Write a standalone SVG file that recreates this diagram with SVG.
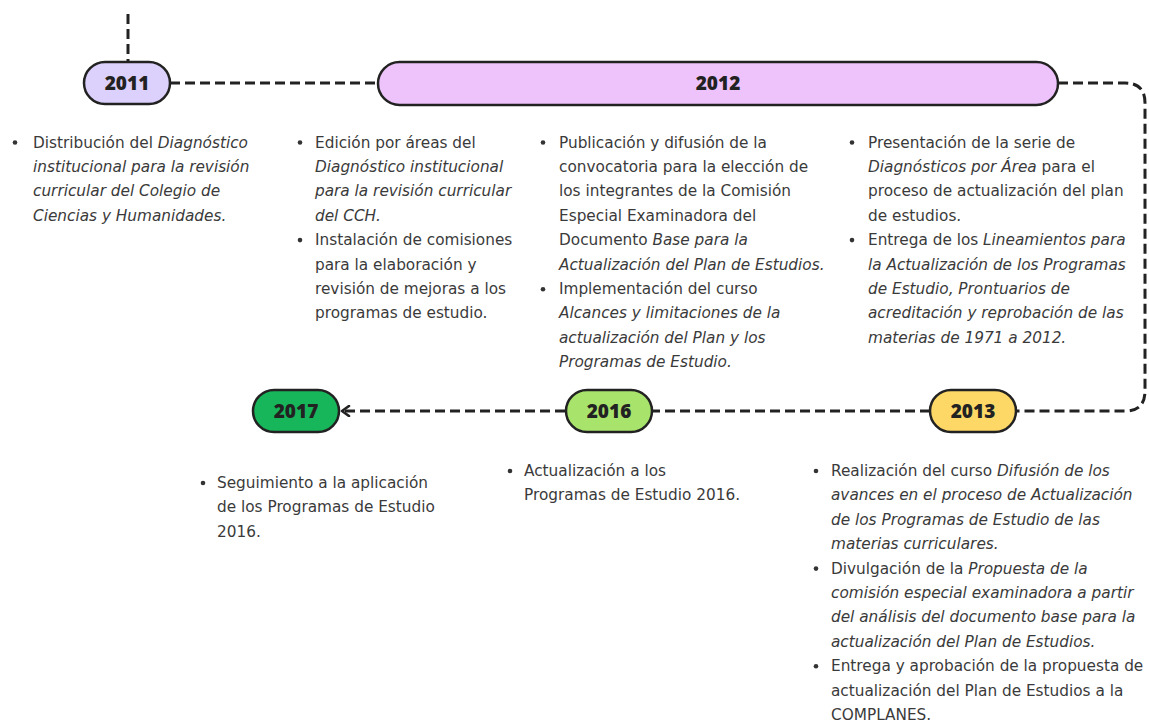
<svg xmlns="http://www.w3.org/2000/svg" width="1149" height="726" viewBox="0 0 1149 726">
<defs>
<style>
.pill{stroke:#222;stroke-width:2.5}
.yr{font-family:"Open Sans","Liberation Sans",sans-serif;font-weight:800;font-size:19px;fill:#222;text-anchor:middle}
.tx{font-family:"DejaVu Sans","Liberation Sans",sans-serif;font-size:15.3px;fill:#3a3a3a}
.i{font-style:italic}
.con{fill:none;stroke:#222;stroke-width:3;stroke-dasharray:10 5}
.dot{fill:#333}
</style>
<marker id="arr" viewBox="0 0 12 12" refX="9" refY="6" markerWidth="12" markerHeight="12" markerUnits="userSpaceOnUse" orient="auto">
<path d="M2,1 L9,6 L2,11" fill="none" stroke="#222" stroke-width="2.6" stroke-linecap="round" stroke-linejoin="round"/>
</marker>
</defs>
<rect width="1149" height="726" fill="#fff"/>
<g id="connectors">
<path class="con" d="M128,14 V62"/>
<path class="con" d="M170,83 H378"/>
<path class="con" d="M1058,83 H1125 Q1145,83 1145,103 V391 Q1145,411 1125,411 H1016"/>
<path class="con" d="M930,411 H652"/>
<path class="con" d="M565,411 H342" marker-end="url(#arr)"/>
</g>
<g id="n2011">
<rect class="pill" x="84" y="62" width="86" height="42" rx="21" fill="#dcd0fc"/>
<text class="yr" x="127" y="90">2011</text>
</g>
<g id="n2012">
<rect class="pill" x="378" y="62" width="680" height="43" rx="21.5" fill="#eec3fb"/>
<text class="yr" x="718" y="90">2012</text>
</g>
<g id="n2013">
<rect class="pill" x="930" y="390" width="86" height="42" rx="21" fill="#fdd867"/>
<text class="yr" x="973" y="418">2013</text>
</g>
<g id="n2016">
<rect class="pill" x="566" y="390" width="86" height="42" rx="21" fill="#a8e36c"/>
<text class="yr" x="609" y="418">2016</text>
</g>
<g id="n2017">
<rect class="pill" x="253" y="390" width="86" height="42" rx="21" fill="#17b65b"/>
<text class="yr" x="296" y="418">2017</text>
</g>
<g id="t2011">
<circle class="dot" cx="15" cy="142.5" r="2.3"/>
<text class="tx">
<tspan x="33" y="147.5">Distribución del <tspan class="i">Diagnóstico</tspan></tspan>
<tspan class="i" x="33" y="171.9">institucional para la revisión</tspan>
<tspan class="i" x="33" y="196.3">curricular del Colegio de</tspan>
<tspan class="i" x="33" y="220.7">Ciencias y Humanidades.</tspan>
</text>
</g>
<g id="t2012a">
<circle class="dot" cx="300" cy="142.5" r="2.3"/>
<circle class="dot" cx="300" cy="240.1" r="2.3"/>
<text class="tx">
<tspan x="315" y="147.5">Edición por áreas del</tspan>
<tspan class="i" x="315" y="171.9">Diagnóstico institucional</tspan>
<tspan class="i" x="315" y="196.3">para la revisión curricular</tspan>
<tspan class="i" x="315" y="220.7">del CCH.</tspan>
<tspan x="315" y="245.1">Instalación de comisiones</tspan>
<tspan x="315" y="269.5">para la elaboración y</tspan>
<tspan x="315" y="293.9">revisión de mejoras a los</tspan>
<tspan x="315" y="318.3">programas de estudio.</tspan>
</text>
</g>
<g id="t2012b">
<circle class="dot" cx="543" cy="142.5" r="2.3"/>
<circle class="dot" cx="543" cy="289.3" r="2.3"/>
<text class="tx">
<tspan x="559" y="147.5">Publicación y difusión de la</tspan>
<tspan x="559" y="171.9">convocatoria para la elección de</tspan>
<tspan x="559" y="196.3">los integrantes de la Comisión</tspan>
<tspan x="559" y="220.7">Especial Examinadora del</tspan>
<tspan x="559" y="245.1">Documento <tspan class="i">Base para la</tspan></tspan>
<tspan class="i" x="559" y="269.5">Actualización del Plan de Estudios.</tspan>
<tspan x="559" y="293.9">Implementación del curso</tspan>
<tspan class="i" x="559" y="318.3">Alcances y limitaciones de la</tspan>
<tspan class="i" x="559" y="342.7">actualización del Plan y los</tspan>
<tspan class="i" x="559" y="367.1">Programas de Estudio.</tspan>
</text>
</g>
<g id="t2012c">
<circle class="dot" cx="852" cy="142.5" r="2.3"/>
<circle class="dot" cx="852" cy="240.1" r="2.3"/>
<text class="tx">
<tspan x="868" y="147.5">Presentación de la serie de</tspan>
<tspan x="868" y="171.9"><tspan class="i">Diagnósticos por Área</tspan> para el</tspan>
<tspan x="868" y="196.3">proceso de actualización del plan</tspan>
<tspan x="868" y="220.7">de estudios.</tspan>
<tspan x="868" y="245.1">Entrega de los <tspan class="i">Lineamientos para</tspan></tspan>
<tspan class="i" x="868" y="269.5">la Actualización de los Programas</tspan>
<tspan class="i" x="868" y="293.9">de Estudio, Prontuarios de</tspan>
<tspan class="i" x="868" y="318.3">acreditación y reprobación de las</tspan>
<tspan class="i" x="868" y="342.7">materias de 1971 a 2012.</tspan>
</text>
</g>
<g id="t2017">
<circle class="dot" cx="203" cy="483" r="2.3"/>
<text class="tx">
<tspan x="217" y="488">Seguimiento a la aplicación</tspan>
<tspan x="217" y="512.4">de los Programas de Estudio</tspan>
<tspan x="217" y="536.8">2016.</tspan>
</text>
</g>
<g id="t2016">
<circle class="dot" cx="510" cy="471" r="2.3"/>
<text class="tx">
<tspan x="524" y="476">Actualización a los</tspan>
<tspan x="524" y="500.4">Programas de Estudio 2016.</tspan>
</text>
</g>
<g id="t2013">
<circle class="dot" cx="816" cy="471" r="2.3"/>
<circle class="dot" cx="816" cy="568.6" r="2.3"/>
<circle class="dot" cx="816" cy="666.2" r="2.3"/>
<text class="tx">
<tspan x="831" y="476">Realización del curso <tspan class="i">Difusión de los</tspan></tspan>
<tspan class="i" x="831" y="500.4">avances en el proceso de Actualización</tspan>
<tspan class="i" x="831" y="524.8">de los Programas de Estudio de las</tspan>
<tspan class="i" x="831" y="549.2">materias curriculares.</tspan>
<tspan x="831" y="573.6">Divulgación de la <tspan class="i">Propuesta de la</tspan></tspan>
<tspan class="i" x="831" y="598">comisión especial examinadora a partir</tspan>
<tspan class="i" x="831" y="622.4">del análisis del documento base para la</tspan>
<tspan class="i" x="831" y="646.8">actualización del Plan de Estudios.</tspan>
<tspan x="831" y="671.2">Entrega y aprobación de la propuesta de</tspan>
<tspan x="831" y="695.6">actualización del Plan de Estudios a la</tspan>
<tspan x="831" y="720">COMPLANES.</tspan>
</text>
</g>
</svg>
